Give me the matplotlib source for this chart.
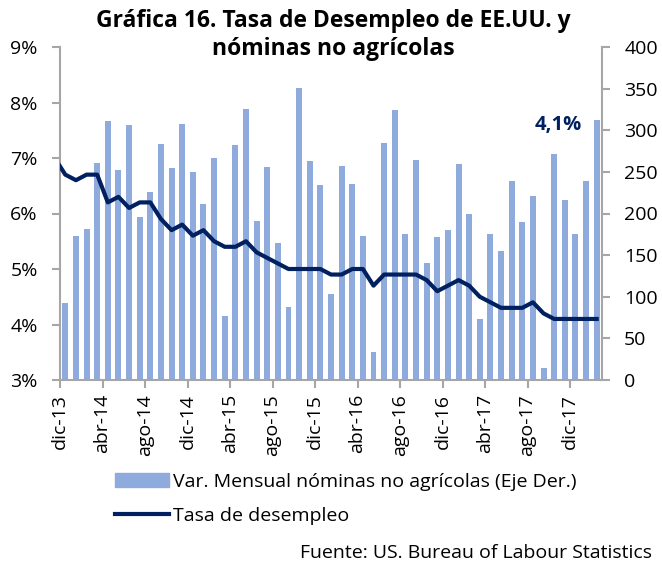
import matplotlib.pyplot as plt
from matplotlib.patches import Patch
from matplotlib.lines import Line2D

# meses dic-13 .. feb-18
meses = ['dic-13', 'ene-14', 'feb-14', 'mar-14', 'abr-14', 'may-14', 'jun-14', 'jul-14',
         'ago-14', 'sep-14', 'oct-14', 'nov-14', 'dic-14', 'ene-15', 'feb-15', 'mar-15',
         'abr-15', 'may-15', 'jun-15', 'jul-15', 'ago-15', 'sep-15', 'oct-15', 'nov-15',
         'dic-15', 'ene-16', 'feb-16', 'mar-16', 'abr-16', 'may-16', 'jun-16', 'jul-16',
         'ago-16', 'sep-16', 'oct-16', 'nov-16', 'dic-16', 'ene-17', 'feb-17', 'mar-17',
         'abr-17', 'may-17', 'jun-17', 'jul-17', 'ago-17', 'sep-17', 'oct-17', 'nov-17',
         'dic-17', 'ene-18', 'feb-18']

# variacion mensual nominas no agricolas (miles, eje derecho)
nominas = [92, 173, 181, 261, 311, 252, 306, 196, 226, 283, 255, 307, 250, 211, 267, 77,
           282, 326, 191, 256, 164, 88, 351, 263, 234, 103, 257, 235, 173, 34, 285, 324,
           175, 264, 140, 172, 180, 259, 200, 73, 175, 155, 239, 190, 221, 14, 271, 216,
           175, 239, 312]

# tasa de desempleo (%), el primer valor es nov-13 (queda cortado en el borde)
desempleo = [7.0, 6.7, 6.6, 6.7, 6.7, 6.2, 6.3, 6.1, 6.2, 6.2, 5.9, 5.7, 5.8, 5.6, 5.7, 5.5,
             5.4, 5.4, 5.5, 5.3, 5.2, 5.1, 5.0, 5.0, 5.0, 5.0, 4.9, 4.9, 5.0, 5.0, 4.7, 4.9,
             4.9, 4.9, 4.9, 4.8, 4.6, 4.7, 4.8, 4.7, 4.5, 4.4, 4.3, 4.3, 4.3, 4.4, 4.2, 4.1,
             4.1, 4.1, 4.1, 4.1]

color_barra = '#8FAADC'
color_linea = '#002060'
gris = '#A6A6A6'

plt.rcParams['font.family'] = ['Open Sans', 'DejaVu Sans']

fig = plt.figure(figsize=(6.62, 5.65), dpi=100)
ax = fig.add_axes([60 / 662, 1 - 380 / 565, 542 / 662, 333 / 565])
ax2 = ax.twinx()

n = len(meses)
x_bar = [i + 0.5 for i in range(n)]
x_lin = [i - 0.5 for i in range(len(desempleo))]

ax2.bar(x_bar, nominas, width=0.56, color=color_barra, zorder=1)
ax.plot(x_lin, desempleo, color=color_linea, lw=3, zorder=3, solid_joinstyle='round')

# linea por encima de las barras
ax.set_zorder(ax2.get_zorder() + 1)
ax.patch.set_visible(False)

ax.set_xlim(0, n)
ax.set_ylim(3, 9)
ax2.set_ylim(0, 400)
ax.set_yticks(range(3, 10))
ax.set_yticklabels([f'{v}%' for v in range(3, 10)])
ax2.set_yticks(range(0, 401, 50))

ticks = list(range(0, n, 4))
ax.set_xticks(ticks)
ax.set_xticklabels([meses[i] for i in ticks], rotation=90)

for a in (ax, ax2):
    for s in a.spines.values():
        s.set_visible(False)
    a.tick_params(colors=gris, labelcolor='black', labelsize=14, length=6, width=1.5)
ax.spines['left'].set_visible(True)
ax.spines['bottom'].set_visible(True)
ax2.spines['right'].set_visible(True)
for s in (ax.spines['left'], ax.spines['bottom'], ax2.spines['right']):
    s.set_color(gris)
    s.set_linewidth(1.5)
ax.tick_params(axis='y', pad=10)
ax2.tick_params(axis='y', pad=10)
ax.tick_params(axis='x', pad=4)

ax.text(46.9, 7.59, '4,1%', color=color_linea, fontsize=14.5, fontweight='bold',
        ha='center', va='center')

fig.text(0.503, 0.984, 'Gráfica 16. Tasa de Desempleo de EE.UU. y\nnóminas no agrícolas',
         ha='center', va='top', fontsize=16.5, fontweight='bold', linespacing=1.2)

handles = [Patch(color=color_barra), Line2D([], [], color=color_linea, lw=3)]
labels = ['Var. Mensual nóminas no agrícolas (Eje Der.)', 'Tasa de desempleo']
fig.legend(handles, labels, loc='upper left', bbox_to_anchor=(115 / 662, 1 - 473 / 565),
           frameon=False, fontsize=14, handlelength=2.8, handleheight=0.7,
           handletextpad=0.2, labelspacing=0.8, borderpad=0, borderaxespad=0)

fig.text(652 / 662, 1 - 562 / 565, 'Fuente: US. Bureau of Labour Statistics',
         ha='right', va='bottom', fontsize=14)

fig.savefig('out.png', dpi=100)
